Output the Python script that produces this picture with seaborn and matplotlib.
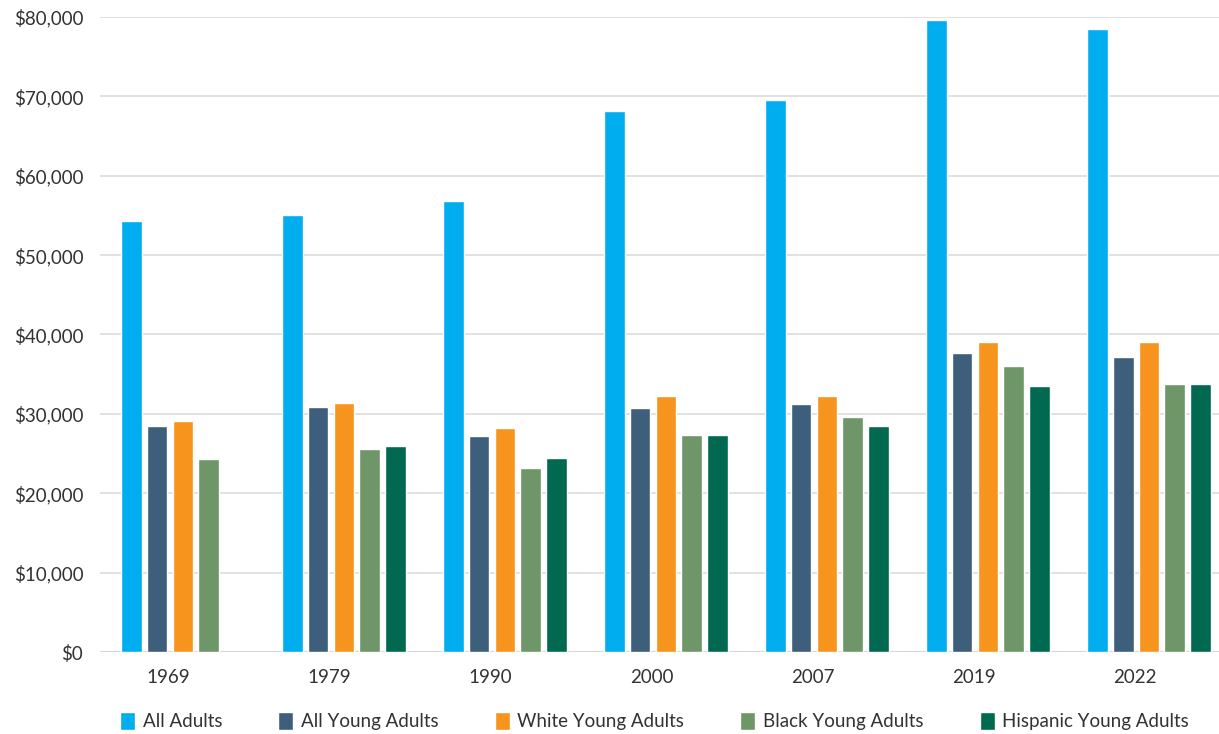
import numpy as np
import pandas as pd
import matplotlib
matplotlib.use("Agg")
import matplotlib.pyplot as plt
import seaborn as sns
from matplotlib.ticker import FuncFormatter
from matplotlib.patches import Patch

years = ["1969", "1979", "1990", "2000", "2007", "2019", "2022"]
series = ["All Adults", "All Young Adults", "White Young Adults",
          "Black Young Adults", "Hispanic Young Adults"]
all_adults = [54300, 55000, 56800, 68200, 69500, 79600, 78500]
all_young = [28500, 30900, 27200, 30700, 31200, 37700, 37200]
white_young = [29100, 31400, 28200, 32200, 32200, 39100, 39100]
black_young = [24300, 25600, 23200, 27400, 29600, 36000, 33800]
hispanic_young = [np.nan, 25900, 24500, 27400, 28500, 33500, 33800]
colors = ["#00AEEF", "#3E5F7B", "#F7941D", "#6E9669", "#00694F"]

values = [all_adults, all_young, white_young, black_young, hispanic_young]
rows = []
for s, vals in zip(series, values):
    for y, v in zip(years, vals):
        rows.append({"Year": y, "Series": s, "Value": v})
df = pd.DataFrame(rows)

sns.set_theme(style="white")
plt.rcParams["font.family"] = ["Lato", "DejaVu Sans"]

fig = plt.figure(figsize=(12.19, 7.34), dpi=100)
ax = fig.add_axes([0.082, 0.1117, 0.918, 0.8652])

sns.barplot(data=df, x="Year", y="Value", hue="Series", order=years,
            hue_order=series, palette=colors, width=0.8, gap=0.2,
            saturation=1, ax=ax, legend=False, errorbar=None)

ax.set_ylim(0, 80000)
ax.set_xlim(-0.515, 6.435)
ax.set_yticks(np.arange(0, 80001, 10000))
ax.yaxis.set_major_formatter(FuncFormatter(lambda v, p: f"${v:,.0f}"))
ax.set_xticks(np.arange(len(years)) - 0.09)
ax.set_xticklabels(years)
ax.grid(axis="y", color="#dcdcdc", linewidth=1.2)
ax.set_axisbelow(True)
for sp in ax.spines.values():
    sp.set_visible(False)
ax.axhline(0, color="#c8c8c8", linewidth=1.5, zorder=0.5)
ax.set_xlabel("")
ax.set_ylabel("")
ax.tick_params(axis="y", labelsize=13.5, labelcolor="#333333", length=0, pad=12)
ax.tick_params(axis="x", labelsize=13.5, labelcolor="#333333", length=0, pad=12)

handles = [Patch(facecolor=c, label=s) for c, s in zip(colors, series)]
fig.legend(handles=handles, loc="center", bbox_to_anchor=(0.537, 0.018),
           ncol=5, frameon=False, fontsize=13.5, handlelength=0.8,
           handleheight=1.1, handletextpad=0.4, columnspacing=3.0,
           labelcolor="#333333")

fig.savefig("out.png", dpi=100)
